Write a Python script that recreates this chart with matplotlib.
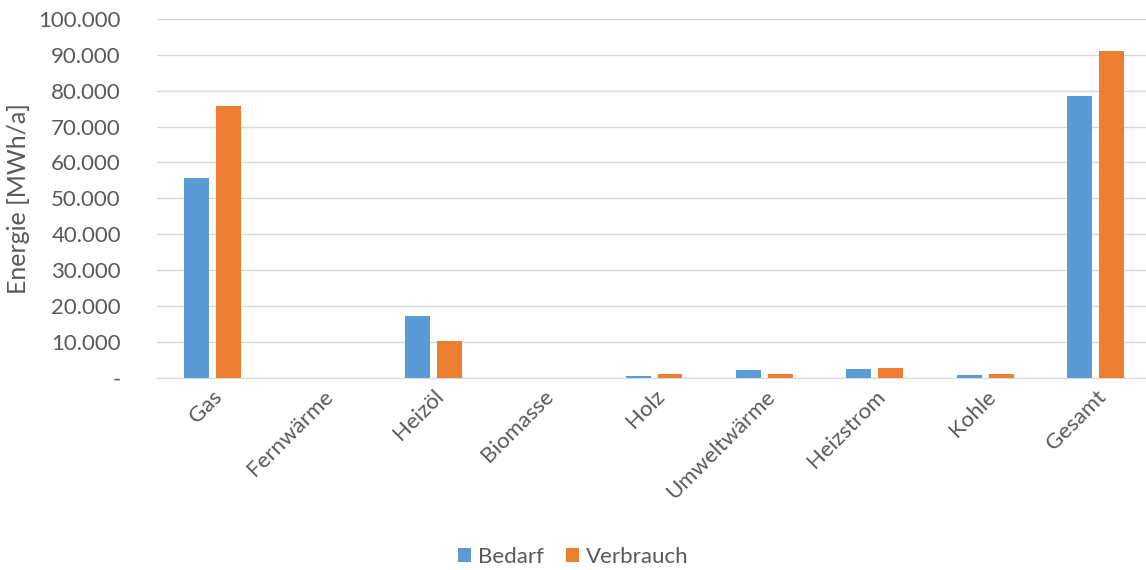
import numpy as np
import matplotlib.pyplot as plt
from matplotlib.ticker import FuncFormatter

plt.rcParams['font.family'] = ['Lato', 'DejaVu Sans']

# Daten
categories = ['Gas', 'Fernwärme', 'Heizöl', 'Biomasse', 'Holz',
              'Umweltwärme', 'Heizstrom', 'Kohle', 'Gesamt']
bedarf = [55700, 0, 17300, 0, 500, 2200, 2500, 800, 78600]
verbrauch = [75800, 0, 10300, 0, 1100, 1100, 2800, 1100, 91100]

blue = '#5b9bd5'
orange = '#ed7d31'
grey = '#595959'

fig = plt.figure(figsize=(11.46, 5.70), dpi=100)
ax = fig.add_axes([0.137, 0.337, 0.8674, 0.63])

x = np.arange(len(categories))
w = 0.226
off = 0.1445
ax.bar(x - off, bedarf, w, color=blue, label='Bedarf', zorder=3)
ax.bar(x + off, verbrauch, w, color=orange, label='Verbrauch', zorder=3)

ax.set_xlim(-0.5, len(categories) - 0.5)
ax.set_ylim(0, 100000)
ax.set_yticks(np.arange(0, 100001, 10000))


def fmt(v, pos):
    if v == 0:
        return '-'
    return f'{int(v):,}'.replace(',', '.')


ax.yaxis.set_major_formatter(FuncFormatter(fmt))
ax.grid(axis='y', color='#d9d9d9', linewidth=1, zorder=0)
ax.tick_params(axis='y', length=0, labelsize=16, colors=grey, pad=26)
ax.tick_params(axis='x', length=0, labelsize=16, colors=grey, pad=6)
ax.set_xticks(x)
ax.set_xticklabels(categories, rotation=45, ha='right', rotation_mode='anchor')
for s in ['top', 'right', 'left']:
    ax.spines[s].set_visible(False)
ax.spines['bottom'].set_color('#d9d9d9')
ax.set_ylabel('Energie [MWh/a]', fontsize=18, color=grey, labelpad=6)

fig.legend(loc='lower center', ncol=2, frameon=False, fontsize=16,
           labelcolor=grey, bbox_to_anchor=(0.5, -0.03),
           handlelength=0.6, handleheight=0.6, handletextpad=0.3, columnspacing=1.0)

fig.savefig('out.png', dpi=100)
